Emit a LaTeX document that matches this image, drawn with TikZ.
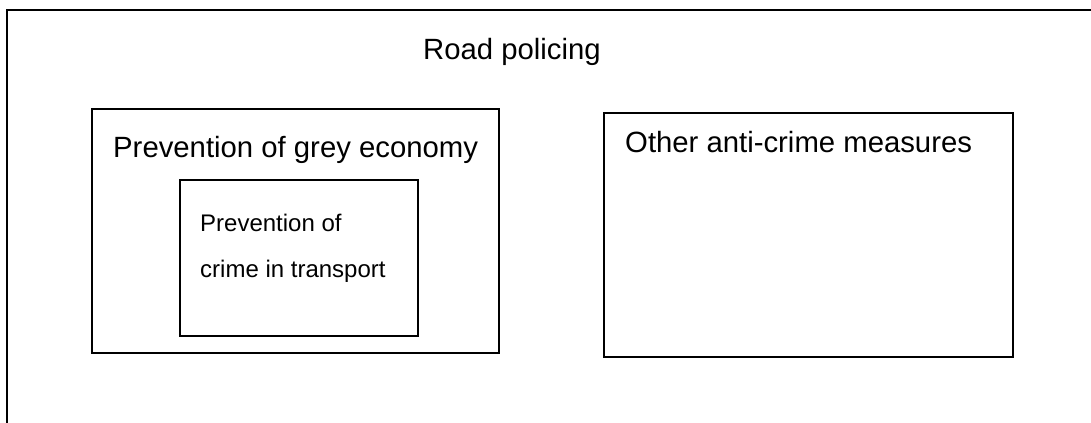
\documentclass[tikz,border=0pt]{standalone}
\usepackage{fontspec}
\setmainfont{Liberation Sans}
\begin{document}
\begin{tikzpicture}[x=1bp,y=-1bp,
  box/.style={draw=black,line width=1.6bp},
  bigtxt/.style={inner sep=0pt,anchor=base west,font=\fontsize{29.3bp}{35bp}\selectfont},
  smalltxt/.style={inner sep=0pt,anchor=base west,font=\fontsize{24bp}{29bp}\selectfont}]
\useasboundingbox (0,0) rectangle (1091,422);
% outer frame (only top and left edges visible)
\coordinate (ob) at (7,425);
\coordinate (oc) at (7,10);
\coordinate (or) at (1095,10);
\draw[line width=2.2bp] (ob) -- (oc) -- (or);
\node[bigtxt] (road) at (423,59) {Road policing};
% left box
\draw[box] (92,109) rectangle (499,353);
\node[bigtxt] (grey) at (113,157) {Prevention of grey economy};
% inner box
\draw[box] (180,180) rectangle (418,336);
\node[smalltxt] (prev) at (200,231) {Prevention of};
\node[smalltxt] (crime) at (200,277) {crime in transport};
% right box
\draw[box] (604,113) rectangle (1013,357);
\node[bigtxt] (other) at (625,152) {Other anti-crime measures};
\end{tikzpicture}
\end{document}
